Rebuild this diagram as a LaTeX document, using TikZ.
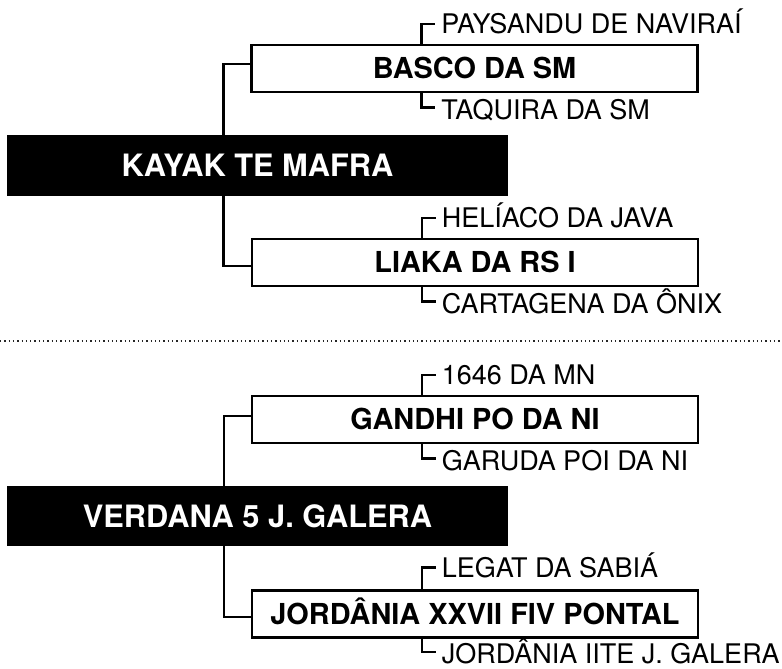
\documentclass[tikz,border=0pt]{standalone}
\usepackage{fontspec}
\setmainfont{TeX Gyre Heros}
\usetikzlibrary{calc}
\tikzset{
  mainbox/.style={fill=black, text=white, font=\bfseries\fontsize{30.8}{34}\selectfont,
    minimum width=501pt, minimum height=61pt, inner sep=0pt, outer sep=0pt,
    text height=22pt, text depth=0pt},
  subbox/.style={draw=black, line width=2.3pt, fill=white, font=\bfseries\fontsize{28.9}{32}\selectfont,
    minimum width=446pt, minimum height=47pt, inner sep=0pt,
    text height=20.7pt, text depth=0pt},
  sublabel/.style={font=\fontsize{27}{30}\selectfont, inner sep=0pt, outer sep=0pt,
    text height=19.4pt, text depth=0pt, anchor=base west},
  conn/.style={line width=2.4pt, draw=black},
  sep/.style={line width=1.3pt, dash pattern=on 1.3pt off 3pt, draw=black!85}
}
\begin{document}
\begin{tikzpicture}[x=1pt,y=-1pt]
\useasboundingbox (0,0) rectangle (782,669);
% ---------- group 1 ----------
\node[mainbox] (m1) at (257.5,165.5) {KAYAK TE MAFRA};
\node[subbox] (b1) at (474.5,68.5) {BASCO DA SM};
\node[subbox] (b2) at (475,262.5) {LIAKA DA RS I};
\node[sublabel] (t1) at ($(b1.north west)+(191,-10)$) {PAYSANDU DE NAVIRAÍ};
\node[sublabel] (u1) at ($(b1.south west)+(191,26)$) {TAQUIRA DA SM};
\node[sublabel] (t2) at ($(b2.north west)+(191,-10)$) {HELÍACO DA JAVA};
\node[sublabel] (u2) at ($(b2.south west)+(191,26)$) {CARTAGENA DA ÔNIX};
\coordinate (j1) at ($(b1.west)+(-27,0)$);
\draw[conn] ($(b1.west)+(0,-4.5)$) -| (j1 |- m1.north);
\draw[conn] ($(b2.west)+(0,3.5)$) -| (j1 |- m1.south);
\draw[conn] ($(b1.north west)+(171,0)$) |- ($(t1.west)+(-6,0)$);
\draw[conn] ($(b1.south west)+(171,0)$) |- ($(u1.west)+(-6,-2)$);
\draw[conn] ($(b2.north west)+(171,0)$) |- ($(t2.west)+(-6,0)$);
\draw[conn] ($(b2.south west)+(171,0)$) |- ($(u2.west)+(-6,-2)$);
% ---------- separator ----------
\coordinate (s0) at (0,341);
\coordinate (s1) at (782,341);
\draw[sep] (s0) -- (s1);
% ---------- group 2 ----------
\node[mainbox, minimum height=60pt] (m2) at (257.5,516) {VERDANA 5 J. GALERA};
\node[subbox] (b3) at (475,419.5) {GANDHI PO DA NI};
\node[subbox] (b4) at (475,614) {JORDÂNIA XXVII FIV PONTAL};
\node[sublabel] (t3) at ($(b3.north west)+(191,-10)$) {1646 DA MN};
\node[sublabel] (u3) at ($(b3.south west)+(191,26)$) {GARUDA POI DA NI};
\node[sublabel] (t4) at ($(b4.north west)+(191,-12)$) {LEGAT DA SABIÁ};
\node[sublabel] (u4) at ($(b4.south west)+(191,25)$) {JORDÂNIA IITE J. GALERA};
\coordinate (j2) at ($(b3.west)+(-27,0)$);
\draw[conn] ($(b3.west)+(0,-3.5)$) -| (j2 |- m2.north);
\draw[conn] ($(b4.west)+(0,3)$) -| (j2 |- m2.south);
\draw[conn] ($(b3.north west)+(171,0)$) |- ($(t3.west)+(-6,0)$);
\draw[conn] ($(b3.south west)+(171,0)$) |- ($(u3.west)+(-6,-2)$);
\draw[conn] ($(b4.north west)+(171,0)$) |- ($(t4.west)+(-6,0)$);
\draw[conn] ($(b4.south west)+(171,0)$) |- ($(u4.west)+(-6,-2)$);
\end{tikzpicture}
\end{document}
